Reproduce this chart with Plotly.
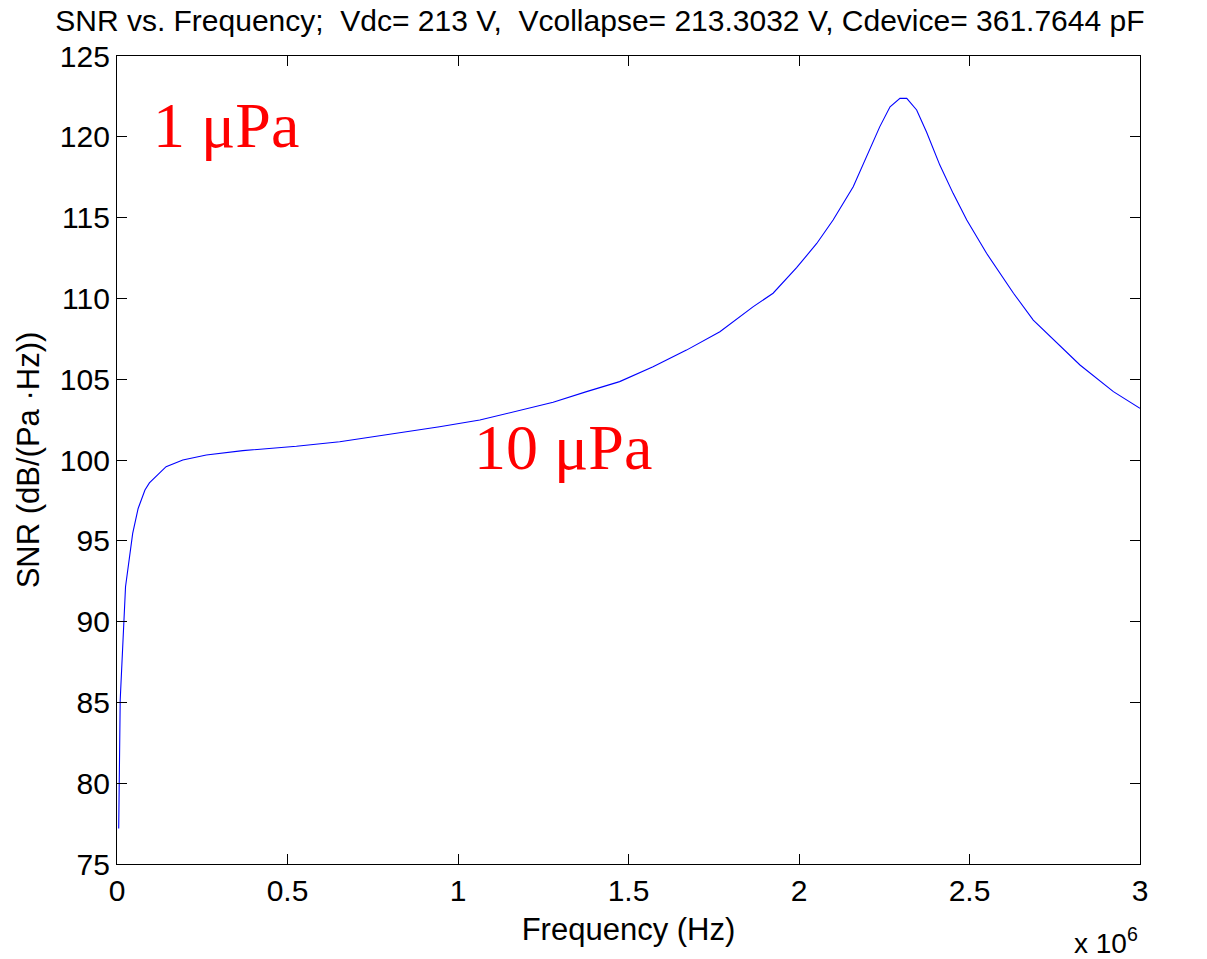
import plotly.graph_objects as go

# Frequency samples (MHz) and the corresponding SNR (dB/(Pa·Hz))
freq_mhz = [0.005, 0.0094, 0.025, 0.046, 0.062, 0.082, 0.095, 0.144, 0.193, 0.262,
            0.369, 0.477, 0.526, 0.653, 0.809, 0.946, 1.064, 1.181, 1.24, 1.279,
            1.377, 1.474, 1.572, 1.67, 1.768, 1.866, 1.924, 1.993, 2.052,
            2.100, 2.159, 2.198, 2.237, 2.267, 2.296, 2.316, 2.345, 2.374, 2.413,
            2.452, 2.492, 2.550, 2.629, 2.687, 2.824, 2.922, 3.0]
snr_db = [77.2, 85.15, 92.16, 95.46, 97.0, 98.14, 98.58, 99.59, 100.0, 100.31,
          100.58, 100.75, 100.85, 101.13, 101.6, 102.06, 102.47, 103.05, 103.34, 103.57,
          104.23, 104.85, 105.77, 106.8, 107.94, 109.49, 110.32, 111.9, 113.4,
          114.85, 116.91, 118.77, 120.63, 121.86, 122.38, 122.38, 121.66, 120.3, 118.25,
          116.50, 114.85, 112.79, 110.32, 108.66, 105.88, 104.23, 103.20]

x_tick_vals_mhz = [0, 0.5, 1, 1.5, 2, 2.5, 3]
x_tick_text = ["0", "0.5", "1", "1.5", "2", "2.5", "3"]
y_tick_vals = [75, 80, 85, 90, 95, 100, 105, 110, 115, 120, 125]

freq_hz = [f * 1e6 for f in freq_mhz]

sans = "Liberation Sans, Arial, sans-serif"
serif = "Liberation Serif, Times New Roman, serif"

fig = go.Figure()
fig.add_trace(go.Scatter(x=freq_hz, y=snr_db, mode="lines",
                         line=dict(color="#0000FF", width=1.1), showlegend=False))

axis_common = dict(showline=True, linecolor="black", linewidth=1.2, mirror="ticks",
                   ticks="inside", ticklen=10, tickcolor="black", tickwidth=1,
                   showgrid=False, zeroline=False,
                   tickfont=dict(family=sans, size=30, color="black"))

fig.update_layout(
    width=1207, height=959,
    margin=dict(l=117, r=67, t=56, b=95),
    paper_bgcolor="white", plot_bgcolor="white",
    title=dict(text="SNR vs. Frequency;  Vdc= 213 V,  Vcollapse= 213.3032 V, Cdevice= 361.7644 pF",
               x=0.497, xanchor="center", y=0.979, yanchor="middle",
               font=dict(family=sans, size=30, color="black")),
    xaxis=dict(range=[0, 3e6], tickvals=[v * 1e6 for v in x_tick_vals_mhz],
               ticktext=x_tick_text,
               title=dict(text="Frequency (Hz)", standoff=12,
                          font=dict(family=sans, size=31, color="black")),
               **axis_common),
    yaxis=dict(range=[75, 125], tickvals=y_tick_vals,
               title=dict(text="SNR (dB/(Pa ·Hz))", standoff=10,
                          font=dict(family=sans, size=31, color="black")),
               **axis_common),
)

fig.add_annotation(x=0.1e6, y=120.7, xref="x", yref="y", text="1 μPa",
                   showarrow=False, xanchor="left", yanchor="middle",
                   font=dict(family=serif, size=64, color="#FF0000"))
fig.add_annotation(x=1.04e6, y=100.75, xref="x", yref="y", text="10 μPa",
                   showarrow=False, xanchor="left", yanchor="middle",
                   font=dict(family=serif, size=64, color="#FF0000"))
fig.add_annotation(x=1.0, y=-0.07, xref="paper", yref="paper",
                   text="x 10<sup>6</sup>", showarrow=False,
                   xanchor="right", yanchor="top",
                   font=dict(family=sans, size=28, color="black"))

fig.write_html("out.html")
